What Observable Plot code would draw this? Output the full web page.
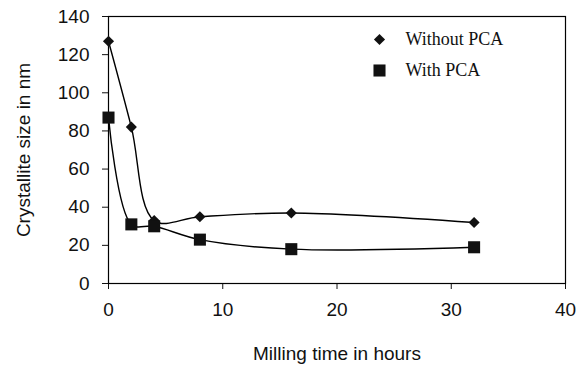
<!DOCTYPE html>
<html>
<head>
<meta charset="utf-8">
<script src="https://cdn.jsdelivr.net/npm/d3@7"></script>
<script src="https://cdn.jsdelivr.net/npm/@observablehq/plot@0.6"></script>
<style>
  html, body { margin: 0; padding: 0; background: #fff; }
  #chart svg { display: block; }
</style>
</head>
<body>
<div id="chart"></div>
<script>
const millingHours = [0, 2, 4, 8, 16, 32];
const withoutPCA = [127, 82, 33, 35, 37, 32];
const withPCA = [87, 31, 30, 23, 18, 19];
const seriesNames = ["Without PCA", "With PCA"];
const seriesSymbols = ["diamond2", "square"];
const xTicks = [0, 10, 20, 30, 40];
const yTicks = [0, 20, 40, 60, 80, 100, 120, 140];

const seriesValues = [withoutPCA, withPCA];
const rows = seriesNames.flatMap((name, s) =>
  millingHours.map((h, i) => ({series: name, hours: h, size: seriesValues[s][i]})));

const symbolR = {"diamond2": 5, "square": 6.8};

const marks = [Plot.frame({stroke: "#000", strokeWidth: 1.2})];
seriesNames.forEach((name, s) => {
  const data = rows.filter(d => d.series === name);
  marks.push(Plot.line(data, {x: "hours", y: "size", curve: "catmull-rom", stroke: "#000", strokeWidth: 1.4}));
  marks.push(Plot.dot(data, {x: "hours", y: "size", symbol: () => seriesSymbols[s], r: symbolR[seriesSymbols[s]], fill: "#111", stroke: "none"}));
  // legend entries
  marks.push(Plot.dot([name], {frameAnchor: "top-left", dx: 271, dy: 23 + s * 31, symbol: () => seriesSymbols[s], r: symbolR[seriesSymbols[s]], fill: "#111", stroke: "none"}));
  marks.push(Plot.text([name], {frameAnchor: "top-left", dx: 297, dy: 23 + s * 31, text: d => d, textAnchor: "start", lineAnchor: "middle", fontFamily: "Liberation Serif, Times New Roman, serif", fontSize: 18, fill: "#111"}));
});

const chart = Plot.plot({
  width: 577,
  height: 367,
  marginLeft: 108,
  marginRight: 12,
  marginTop: 16,
  marginBottom: 84,
  style: {fontFamily: "Liberation Sans, Arial, sans-serif", fontSize: "19px", color: "#111", background: "#fff"},
  x: {domain: [0, 40], ticks: xTicks, tickSize: 6, tickPadding: 13, label: "Milling time in hours", labelArrow: "none", labelAnchor: "center", labelOffset: 76, line: true},
  y: {domain: [0, 140], ticks: yTicks, tickSize: 6, tickPadding: 13, label: "Crystallite size in nm", labelArrow: "none", labelAnchor: "center", labelOffset: 92, line: true},
  marks
});
document.getElementById("chart").appendChild(chart);
</script>
</body>
</html>
